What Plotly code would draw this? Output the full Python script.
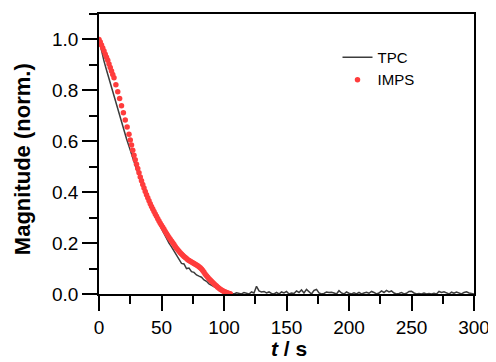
import plotly.graph_objects as go

# TPC transient (time in s, normalised magnitude), sampled every 2 s
tpc_mag = [
    1.0, 0.955, 0.915, 0.88, 0.845, 0.81, 0.78, 0.745, 0.71, 0.675,
    0.645, 0.61, 0.58, 0.545, 0.52, 0.49, 0.465, 0.435, 0.41, 0.385,
    0.36, 0.335, 0.315, 0.295, 0.275, 0.255, 0.24, 0.22, 0.2, 0.185,
    0.17, 0.155, 0.14, 0.12, 0.118, 0.1, 0.102, 0.088, 0.085, 0.075,
    0.07, 0.066, 0.055, 0.05, 0.04, 0.034, 0.028, 0.022, 0.018, 0.013,
    0.01, 0.008, 0.004,
    0.003, 0.0, 0.005, 0.002, 0.0, 0.006, 0.003, 0.0, 0.008, 0.004,
    0.03, 0.012, 0.008, 0.01, 0.004, 0.008, 0.002, 0.0, 0.006, 0.0,
    0.008, 0.004, 0.01, 0.0, 0.004, 0.002, 0.012, 0.006, 0.016, 0.004,
    0.018, 0.008, 0.0, 0.014, 0.018, 0.004, 0.0, 0.002, 0.008, 0.006,
    0.007, 0.004, 0.0, 0.013, 0.004, 0.0, 0.008, 0.003, 0.0, 0.005,
    0.0, 0.006, 0.0, 0.004, 0.007, 0.003, 0.01, 0.006, 0.0, 0.004,
    0.012, 0.006, 0.014, 0.008, 0.012, 0.004, 0.0, 0.002, 0.006, 0.0,
    0.003, 0.01, 0.011, 0.004, 0.0, 0.002, 0.0, 0.004, 0.0, 0.002,
    0.0, 0.003, 0.0, 0.01, 0.006, 0.009, 0.004, 0.0, 0.007, 0.003,
    0.008, 0.003, 0.0, 0.006, 0.009, 0.004, 0.002, 0.0,
]
tpc_time = [2 * i for i in range(len(tpc_mag))]

# IMPS-derived transient
imps_time = [
    0, 1, 2, 3, 4, 5, 6, 7, 8, 9, 10, 11, 12,
    13.5, 15, 16.5, 18, 19.5, 21, 22.5, 24,
    25, 26, 27, 28, 29, 30, 31, 32, 33, 34, 35, 36, 37, 38, 39, 40,
    41, 42, 43, 44, 45, 46, 47, 48, 49, 50, 51, 52, 53, 54, 55, 56,
    57, 58, 59, 60, 61, 62, 63, 64, 65, 66, 67, 68, 69, 70, 71, 72,
    73, 74, 75, 76, 77, 78, 79, 80, 81, 82, 83, 84, 85, 86, 87, 88,
    89, 90, 91, 92, 93, 94, 95, 96, 97, 98, 99, 100, 101, 102, 103, 104, 105,
]
imps_mag = [
    1.0, 0.99, 0.978, 0.966, 0.955, 0.942, 0.93, 0.918, 0.904, 0.89, 0.876, 0.862, 0.85,
    0.822, 0.795, 0.768, 0.74, 0.712, 0.684, 0.656, 0.628,
    0.605, 0.585, 0.565, 0.545, 0.527, 0.51, 0.493, 0.476, 0.46, 0.445, 0.43, 0.416, 0.403, 0.39, 0.378, 0.366,
    0.355, 0.344, 0.334, 0.324, 0.314, 0.305, 0.296, 0.287, 0.278, 0.27, 0.262, 0.254, 0.246, 0.238, 0.23, 0.222,
    0.215, 0.208, 0.201, 0.194, 0.187, 0.18, 0.174, 0.168, 0.162, 0.157, 0.152, 0.147, 0.143, 0.139, 0.135, 0.132,
    0.129, 0.126, 0.123, 0.12, 0.117, 0.114, 0.111, 0.107, 0.103, 0.098, 0.092, 0.085, 0.078, 0.072, 0.066, 0.06,
    0.055, 0.05, 0.045, 0.04, 0.035, 0.031, 0.027, 0.023, 0.019, 0.016, 0.013, 0.01, 0.008, 0.006, 0.004, 0.002, 0.001,
]

x_ticks = [0, 50, 100, 150, 200, 250, 300]
y_ticks = [0.0, 0.2, 0.4, 0.6, 0.8, 1.0]
x_title = "<b><i>t</i> / s</b>"
y_title = "<b>Magnitude (norm.)</b>"

fig = go.Figure()
fig.add_trace(go.Scatter(
    x=tpc_time, y=tpc_mag, mode="lines", name="TPC",
    line=dict(color="#3c3c3c", width=1.5),
))
fig.add_trace(go.Scatter(
    x=imps_time, y=imps_mag, mode="markers", name="IMPS",
    marker=dict(color="#ff3c3c", size=5.5, line=dict(width=0)),
))

font = "Arial, Liberation Sans, sans-serif"
axis_common = dict(
    showline=True, linecolor="black", linewidth=1.8, mirror=True,
    ticks="outside", tickcolor="black", tickwidth=1.8, ticklen=15,
    showgrid=False, zeroline=False, automargin=False,
    tickfont=dict(family=font, size=19, color="black"),
)
fig.update_xaxes(
    range=[0, 300], tickvals=x_ticks,
    minor=dict(dtick=25, ticks="outside", ticklen=8, tickcolor="black", tickwidth=1.8),
    **axis_common,
)
fig.update_yaxes(
    range=[0, 1.1], tickvals=y_ticks, tickformat=".1f",
    minor=dict(dtick=0.1, ticks="outside", ticklen=8, tickcolor="black", tickwidth=1.8),
    **axis_common,
)
fig.add_annotation(
    text=x_title, xref="paper", yref="paper", x=0.507, y=-0.196,
    xanchor="center", yanchor="middle", showarrow=False,
    font=dict(family=font, size=21, color="black"),
)
fig.add_annotation(
    text=y_title, xref="paper", yref="paper", x=-0.205, y=0.482,
    xanchor="center", yanchor="middle", showarrow=False, textangle=-90,
    font=dict(family=font, size=22, color="black"),
)
fig.update_layout(
    width=488, height=354,
    margin=dict(l=91, r=22, t=6, b=68),
    paper_bgcolor="white", plot_bgcolor="white",
    legend=dict(x=0.636, y=0.904, xanchor="left", yanchor="top",
                font=dict(family=font, size=15, color="black"),
                bgcolor="rgba(0,0,0,0)"),
)
fig.write_html("out.html")
